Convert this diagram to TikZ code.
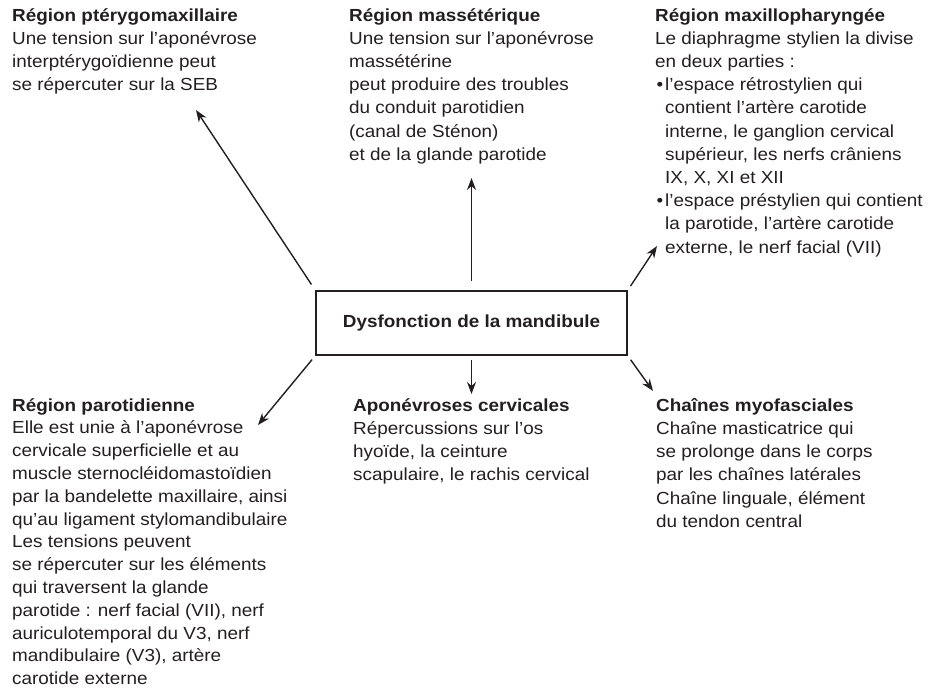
\documentclass[tikz,border=0pt]{standalone}
\usepackage{fontspec}
\setmainfont{Liberation Sans}[FakeStretch=1.08]
\usetikzlibrary{arrows.meta}
\definecolor{ink}{HTML}{231F20}
\newcommand{\puce}{\makebox[10pt][l]{\hspace{1.5pt}\textbullet}}
\newcommand{\retrait}{\hspace*{10pt}}

\begin{document}
\begin{tikzpicture}[
        x=1pt,y=-1pt,
        >={Stealth[length=12pt,width=9pt]},
        bloc/.style={anchor=north west,align=left,inner sep=0pt,text=ink,
            font=\fontsize{17.5}{23.2}\selectfont,
            execute at begin node=\rule{0pt}{17pt}},
        boite/.style={rectangle,draw=ink,line width=1.4pt,text=ink,
            minimum width=311pt,minimum height=64pt,
            font=\fontsize{17.5}{23.2}\selectfont\bfseries},
        every edge/.style={draw=ink,line width=1.4pt},
    ]
    \useasboundingbox (0,0) rectangle (929,691);
    \node[boite] (Dysf) at (471.5,323) {Dysfonction de la mandibule};

    % les six regions
    \node[bloc] (Ptery) at (12,8) {\textbf{Région ptérygomaxillaire}\\
        Une tension sur l’aponévrose\\
        interptérygoïdienne peut\\
        se répercuter sur la SEB};
    \node[bloc] (Masset) at (349,8) {\textbf{Région massétérique}\\
        Une tension sur l’aponévrose\\
        massétérine\\
        peut produire des troubles\\
        du conduit parotidien\\
        (canal de Sténon)\\
        et de la glande parotide};
    \node[bloc] (Maxph) at (655,8) {\textbf{Région maxillopharyngée}\\
        Le diaphragme stylien la divise\\
        en deux parties :\\
        \puce l’espace rétrostylien qui\\
        \retrait contient l’artère carotide\\
        \retrait interne, le ganglion cervical\\
        \retrait supérieur, les nerfs crâniens\\
        \retrait IX, X, XI et XII\\
        \puce l’espace préstylien qui contient\\
        \retrait la parotide, l’artère carotide\\
        \retrait externe, le nerf facial (VII)};
    \node[bloc,font=\fontsize{17.5}{22.8}\selectfont] (Paro) at (12,398) {\textbf{Région parotidienne}\\
        Elle est unie à l’aponévrose\\
        cervicale superficielle et au\\
        muscle sternocléidomastoïdien\\
        par la bandelette maxillaire, ainsi\\
        qu’au ligament stylomandibulaire\\
        Les tensions peuvent\\
        se répercuter sur les éléments\\
        qui traversent la glande\\
        parotide : nerf facial (VII), nerf\\
        auriculotemporal du V3, nerf\\
        mandibulaire (V3), artère\\
        carotide externe};
    \node[bloc] (Apon) at (353,398) {\textbf{Aponévroses cervicales}\\
        Répercussions sur l’os\\
        hyoïde, la ceinture\\
        scapulaire, le rachis cervical};
    \node[bloc] (Chaines) at (656,398) {\textbf{Chaînes myofasciales}\\
        Chaîne masticatrice qui\\
        se prolonge dans le corps\\
        par les chaînes latérales\\
        Chaîne linguale, élément\\
        du tendon central};

    % pointes des fleches
    \coordinate (versPtery) at (196,110);
    \coordinate (versMasset) at (471.5,178);
    \coordinate (versMaxph) at (657,246);
    \coordinate (versParo) at (258,425);
    \coordinate (versApon) at (471.5,394);
    \coordinate (versChaines) at (653,391);

    \path (Dysf.north west) edge [->,shorten <=7pt] (versPtery)
          (Dysf.north) edge [->,shorten <=9pt] (versMasset)
          (Dysf.north east) edge [->,shorten <=5pt] (versMaxph)
          (Dysf.south west) edge [->,shorten <=5pt] (versParo)
          (Dysf.south) edge [->,shorten <=4pt] (versApon)
          (Dysf.south east) edge [->,shorten <=5pt] (versChaines);
\end{tikzpicture}
\end{document}
